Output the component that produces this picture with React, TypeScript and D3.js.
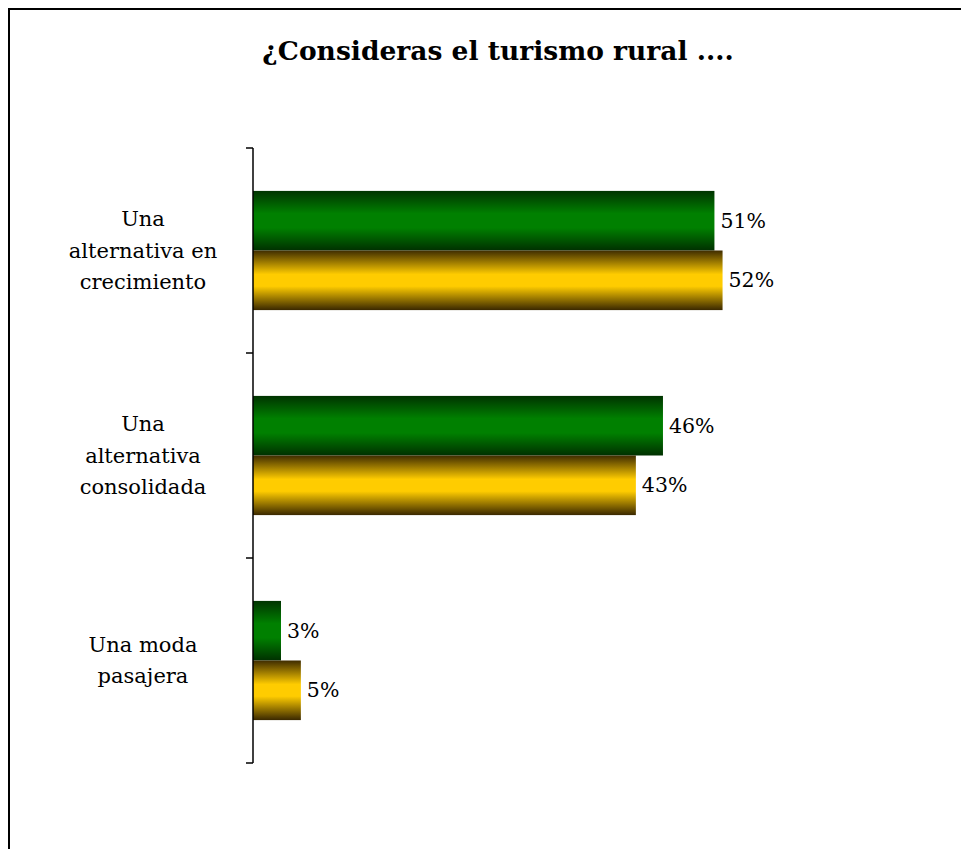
import React from "react";
import * as d3 from "d3";

const categories: string[][] = [
  ["Una", "alternativa en", "crecimiento"],
  ["Una", "alternativa", "consolidada"],
  ["Una moda", "pasajera"],
];
const categoryKeys = ["crecimiento", "consolidada", "pasajera"];
const seriesNames = ["serie1", "serie2"];
const serie1Values = [51.1, 45.4, 3.1];
const serie2Values = [52.0, 42.4, 5.3];
const valueLabels1 = ["51%", "46%", "3%"];
const valueLabels2 = ["52%", "43%", "5%"];
const title = "¿Consideras el turismo rural ....";

const W = 961;
const H = 849;
const plotLeft = 253;
const plotTop = 148;
const plotBottom = 763;
const FONT = "'DejaVu Serif', 'Liberation Serif', serif";

export default function App() {
  const y = d3.scaleBand<string>().domain(categoryKeys).range([plotTop, plotBottom]).padding(0);
  const inner = d3.scaleBand<string>().domain(seriesNames).range([0, y.bandwidth()]).paddingInner(0).paddingOuter(0.72);
  const x = d3.scaleLinear().domain([0, 100]).range([plotLeft, plotLeft + 903]);
  const seriesVals = [serie1Values, serie2Values];
  const seriesLabels = [valueLabels1, valueLabels2];
  const fills = ["url(#gGreen)", "url(#gYellow)"];
  const ticks = [plotTop, ...categoryKeys.map((k) => (y(k) as number) + y.bandwidth())];
  const lineH = 31.5;

  return (
    <svg width={W} height={H} style={{ position: "absolute", left: 0, top: 0 }}>
      <defs>
        <linearGradient id="gGreen" x1="0" y1="0" x2="0" y2="1">
          <stop offset="0" stopColor="#003300" />
          <stop offset="0.38" stopColor="#008000" />
          <stop offset="0.62" stopColor="#008000" />
          <stop offset="1" stopColor="#003000" />
        </linearGradient>
        <linearGradient id="gYellow" x1="0" y1="0" x2="0" y2="1">
          <stop offset="0" stopColor="#3f2c00" />
          <stop offset="0.4" stopColor="#ffcc00" />
          <stop offset="0.6" stopColor="#ffcc00" />
          <stop offset="1" stopColor="#3a2800" />
        </linearGradient>
      </defs>
      <rect x={0} y={0} width={W} height={H} fill="#fff" />
      <rect x={9} y={9} width={1000} height={1000} fill="none" stroke="#000" strokeWidth={2} />
      <text x={498} y={50} textAnchor="middle" dominantBaseline="central" fontFamily={FONT} fontWeight="bold" fontSize={26.5} fill="#000">
        {title}
      </text>
      {categoryKeys.map((k, ci) =>
        seriesNames.map((s, si) => {
          const by = (y(k) as number) + (inner(s) as number);
          const bh = inner.bandwidth();
          const v = seriesVals[si][ci];
          return (
            <g key={k + s}>
              <rect x={x(0)} y={by} width={x(v) - x(0)} height={bh} fill={fills[si]} />
              <text x={x(v) + 6} y={by + bh / 2} dominantBaseline="central" fontFamily={FONT} fontSize={20.5} fill="#000">
                {seriesLabels[si][ci]}
              </text>
            </g>
          );
        })
      )}
      <line x1={plotLeft} x2={plotLeft} y1={plotTop} y2={plotBottom} stroke="#000" strokeWidth={1.5} />
      {ticks.map((t, i) => (
        <line key={i} x1={plotLeft - 7} x2={plotLeft} y1={t} y2={t} stroke="#000" strokeWidth={1.5} />
      ))}
      {categoryKeys.map((k, ci) => {
        const lines = categories[ci];
        const cy = (y(k) as number) + y.bandwidth() / 2;
        return (
          <text key={k} textAnchor="middle" fontFamily={FONT} fontSize={21} fill="#000">
            {lines.map((ln, li) => (
              <tspan key={li} x={143} y={cy + (li - (lines.length - 1) / 2) * lineH} dominantBaseline="central">
                {ln}
              </tspan>
            ))}
          </text>
        );
      })}
    </svg>
  );
}
